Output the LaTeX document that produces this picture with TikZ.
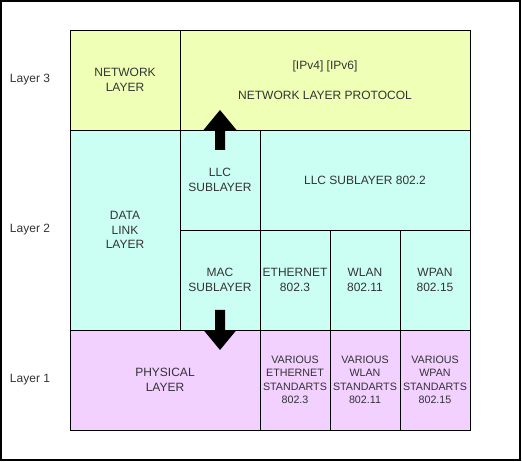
\documentclass[tikz,border=0pt]{standalone}
\usepackage{fontspec}
\setmainfont{Liberation Sans}
\usepackage{xcolor}
\usepackage{tikz}

\definecolor{netyellow}{HTML}{EFFFB5}
\definecolor{linkcyan}{HTML}{CCFFF3}
\definecolor{physpurple}{HTML}{F2D0FF}
\definecolor{textgray}{HTML}{333333}

\begin{document}
\begin{tikzpicture}[x=1pt,y=-1pt,
    cell/.style={draw,line width=0.9pt,inner sep=0pt,outer sep=0pt,align=center,
      text=textgray,font=\fontsize{12}{14.4}\selectfont},
    netcell/.style={cell,fill=netyellow},
    linkcell/.style={cell,fill=linkcyan},
    physcell/.style={cell,fill=physpurple},
    stdcell/.style={physcell,font=\fontsize{10.7}{13.4}\selectfont},
    layerlabel/.style={text=textgray,font=\fontsize{12}{14.4}\selectfont},
    blockarrow/.style={fill=black}]
    \useasboundingbox (0,0) rectangle (522,462);
    \draw[line width=1.3pt] (1,1) rectangle (520,460);
    % layer 3
    \node[netcell,minimum width=110,minimum height=100] (netlayer) at (125,80) {NETWORK\\LAYER};
    \node[netcell,minimum width=290,minimum height=100] (netproto) at (325,80) {[IPv4] [IPv6]\\[15.6pt]NETWORK LAYER PROTOCOL};
    % layer 2
    \node[linkcell,minimum width=110,minimum height=200] (datalink) at (125,230) {DATA\\LINK\\LAYER};
    \node[linkcell,minimum width=80,minimum height=100] (llc) at (220,180) {LLC\\SUBLAYER};
    \node[linkcell,minimum width=210,minimum height=100] (llcstd) at (365,180) {LLC SUBLAYER 802.2};
    \node[linkcell,minimum width=80,minimum height=100] (mac) at (220,280) {MAC\\SUBLAYER};
    \node[linkcell,minimum width=70,minimum height=100] (ethernet) at (295,280) {ETHERNET\\802.3};
    \node[linkcell,minimum width=70,minimum height=100] (wlan) at (365,280) {WLAN\\802.11};
    \node[linkcell,minimum width=70,minimum height=100] (wpan) at (435,280) {WPAN\\802.15};
    % layer 1
    \node[physcell,minimum width=190,minimum height=100] (physical) at (165,380) {PHYSICAL\\LAYER};
    \node[stdcell,minimum width=70,minimum height=100] (ethstd) at (295,380) {VARIOUS\\ETHERNET\\STANDARTS\\802.3};
    \node[stdcell,minimum width=70,minimum height=100] (wlanstd) at (365,380) {VARIOUS\\WLAN\\STANDARTS\\802.11};
    \node[stdcell,minimum width=70,minimum height=100] (wpanstd) at (435,380) {VARIOUS\\WPAN\\STANDARTS\\802.15};
    % layer labels
    \node[layerlabel] (layer3) at (30,80) {Layer 3};
    \node[layerlabel] (layer2) at (30,230) {Layer 2};
    \node[layerlabel] (layer1) at (30,380) {Layer 1};
    % block arrows
    \fill[blockarrow] (215,150) -- (215,130) -- (203.5,130) -- (220,110) -- (236.5,130) -- (225,130) -- (225,150) -- cycle;
    \fill[blockarrow] (215,310) -- (215,330) -- (203.5,330) -- (220,350) -- (236.5,330) -- (225,330) -- (225,310) -- cycle;
\end{tikzpicture}
\end{document}
